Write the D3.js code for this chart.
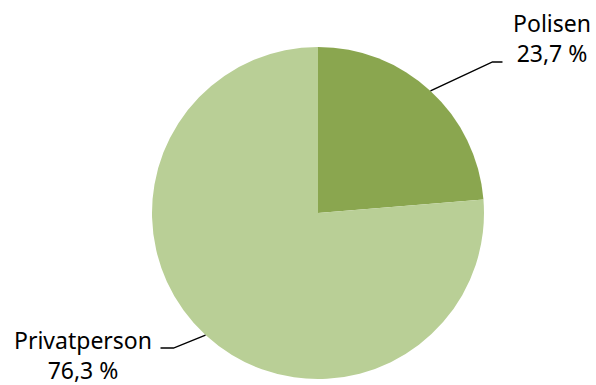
<!DOCTYPE html>
<html lang="sv">
<head>
<meta charset="UTF-8">
<title>Pie</title>
<script src="https://cdn.jsdelivr.net/npm/d3@7/dist/d3.min.js"></script>
<style>
  body { margin: 0; background: #fff; }
  svg { display: block; }
  text { font-family: "Noto Sans", sans-serif; font-size: 23px; fill: #000; }
</style>
</head>
<body>
<svg width="596" height="385"></svg>
<script>
    // data
    var categories = ['Polisen', 'Privatperson'];
    var values = [23.7, 76.3];
    var colors = ['#8aa64f', '#b9cf96'];

    var svg = d3.select('svg');
    var cx = 318, cy = 213, r = 166;

    var pie = d3.pie().sort(null).value(function (d) { return d; });
    var arc = d3.arc().innerRadius(0).outerRadius(r);
    var arcs = pie(values);

    var g = svg.append('g').attr('transform', 'translate(' + cx + ',' + cy + ')');

    g.selectAll('path.slice')
        .data(arcs)
        .enter().append('path')
        .attr('class', 'slice')
        .attr('d', arc)
        .style('fill', function (d, i) { return colors[i]; });

    // leader line bends, and label centre/baseline relative to pie centre
    var labelPos = [
        { bend: [62, -29], end: [72, -29], text: [234, -181] },
        { bend: [-32, 13], end: [-45, 13], text: [-235, 136] }
    ];

    function fmt(v) { return String(v).replace('.', ',') + ' %'; }

    arcs.forEach(function (d, i) {
        var mid = (d.startAngle + d.endAngle) / 2;
        var px = Math.sin(mid) * r, py = -Math.cos(mid) * r;
        var lp = labelPos[i];
        g.append('polyline')
            .attr('points', [[px, py], [px + lp.bend[0], py + lp.bend[1]], [px + lp.end[0], py + lp.end[1]]].join(' '))
            .style('fill', 'none')
            .style('stroke', '#000')
            .style('stroke-width', 1.5);
        var t = g.append('text')
            .attr('text-anchor', 'middle')
            .attr('x', lp.text[0])
            .attr('y', lp.text[1]);
        t.append('tspan').attr('x', lp.text[0]).attr('dy', 0).text(categories[i]);
        t.append('tspan').attr('x', lp.text[0]).attr('dy', 30).text(fmt(values[i]));
    });
</script>
</body>
</html>
